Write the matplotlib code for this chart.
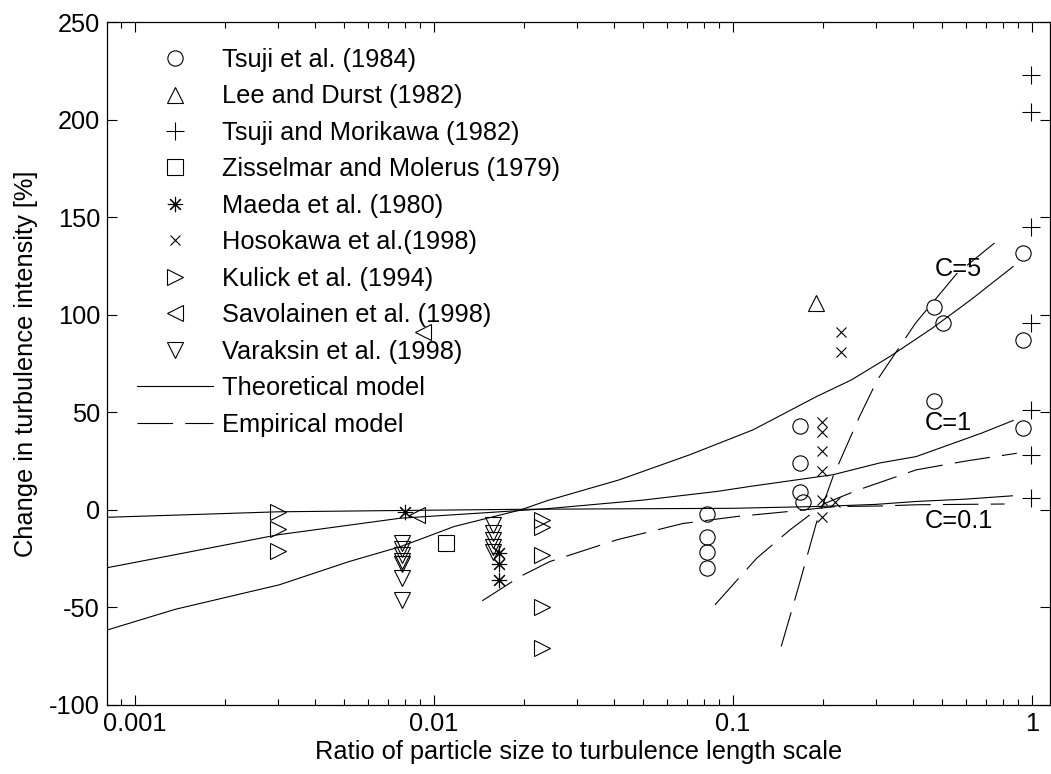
import matplotlib
matplotlib.use("Agg")
import matplotlib.pyplot as plt
from matplotlib.lines import Line2D

plt.rcParams["font.family"] = ["Liberation Sans", "DejaVu Sans"]
plt.rcParams["font.size"] = 18.3
plt.rcParams["axes.unicode_minus"] = False

# ---- measured data ----
tsuji84_x = [0.082, 0.082, 0.082, 0.082, 0.168, 0.168, 0.168, 0.172,
             0.472, 0.503, 0.472, 0.935, 0.935, 0.935]
tsuji84_y = [-2, -14, -21.5, -30, 43, 24, 9, 4, 104, 96, 56, 131.5, 87, 42]

lee_x = [0.19]
lee_y = [106]

morikawa_x = [0.99, 0.99, 0.99, 0.99, 0.99, 0.99, 0.99]
morikawa_y = [223, 204, 145, 96, 51, 28, 6]

zisselmar_x = [0.011]
zisselmar_y = [-17]

maeda_x = [0.008, 0.0165, 0.0165, 0.0165]
maeda_y = [-1, -22, -28, -36]

hosokawa_x = [0.198, 0.198, 0.198, 0.198, 0.198, 0.198, 0.22, 0.23, 0.23]
hosokawa_y = [45, 40, 30, 20, 5, -3.5, 4, 91, 81]

kulick_x = [0.003, 0.003, 0.003, 0.023, 0.023, 0.023, 0.023, 0.023]
kulick_y = [-1, -10, -21, -5, -9, -23, -50, -71]

savolainen_x = [0.0088, 0.0092]
savolainen_y = [-2.5, 91]

varaksin_x = [0.0078, 0.0078, 0.0078, 0.0078, 0.0078, 0.0078, 0.0078,
              0.0157, 0.0157, 0.0157, 0.0157, 0.0157]
varaksin_y = [-17, -20, -23, -26, -28, -35, -46, -8, -12, -15.5, -19, -21.5]

# ---- theoretical model curves ----
theo_c5_x = [0.00081, 0.00136, 0.00304, 0.0052, 0.00774, 0.0117, 0.0195, 0.024,
             0.0417, 0.0716, 0.1167, 0.19, 0.249, 0.335, 0.463, 0.624, 0.865]
theo_c5_y = [-61.5, -51, -38.4, -26.5, -18.8, -8.5, 0, 4.8,
             15.4, 28.2, 41, 58, 66.6, 78.6, 93, 107.6, 124.7]

theo_c1_x = [0.00081, 0.00136, 0.003, 0.0077, 0.0235, 0.05, 0.088, 0.114,
             0.216, 0.309, 0.41, 0.678, 0.865]
theo_c1_y = [-29.6, -23, -12.8, -4.3, 0.5, 5, 9.4, 12, 18, 24, 27.3, 39.3, 45.8]

theo_c01_x = [0.00081, 0.0015, 0.003, 0.008, 0.02, 0.1, 0.2, 0.3, 0.41, 0.6, 0.86]
theo_c01_y = [-3.8, -2.5, -1, -0.3, 0.3, 0.8, 1.8, 2.8, 4.3, 5.5, 7.2]

# ---- empirical model curves ----
emp_c01_x = [0.0145, 0.0195, 0.0244, 0.0408, 0.068, 0.103, 0.15, 0.22, 0.317, 0.41, 0.81]
emp_c01_y = [-46.6, -34, -26.5, -15.4, -7, -3.4, -1, 1.7, 2, 2.6, 3]

emp_c1_x = [0.087, 0.12, 0.155, 0.2035, 0.26, 0.41, 0.6, 0.89]
emp_c1_y = [-48.7, -24.8, -10.3, 3.4, 10, 20.5, 25, 29]

emp_c5_x = [0.145, 0.166, 0.19, 0.216, 0.265, 0.304, 0.408, 0.56, 0.796]
emp_c5_y = [-70, -39, -6.8, 17, 47.8, 66.6, 95.7, 121, 140]

fig = plt.figure(figsize=(10.51, 7.74), dpi=100)
ax = fig.add_axes([107 / 1051, 69 / 774, 943 / 1051, 683 / 774])

dash = (0, (32, 11))
lw = 0.8
for xs, ys in [(theo_c5_x, theo_c5_y), (theo_c1_x, theo_c1_y), (theo_c01_x, theo_c01_y)]:
    ax.plot(xs, ys, color="black", lw=lw)
for xs, ys in [(emp_c01_x, emp_c01_y), (emp_c1_x, emp_c1_y), (emp_c5_x, emp_c5_y)]:
    ax.plot(xs, ys, color="black", lw=lw, linestyle=dash)

mk = dict(linestyle="none", color="black", mfc="none", mew=0.8)
series = [
    (tsuji84_x, tsuji84_y, "o", 11, "Tsuji et al. (1984)"),
    (lee_x, lee_y, "^", 12, "Lee and Durst (1982)"),
    (morikawa_x, morikawa_y, "+", 13, "Tsuji and Morikawa (1982)"),
    (zisselmar_x, zisselmar_y, "s", 11, "Zisselmar and Molerus (1979)"),
    (maeda_x, maeda_y, (8, 2, 0), 11, "Maeda et al. (1980)"),
    (hosokawa_x, hosokawa_y, "x", 6.5, "Hosokawa et al.(1998)"),
    (kulick_x, kulick_y, ">", 12, "Kulick et al. (1994)"),
    (savolainen_x, savolainen_y, "<", 12, "Savolainen et al. (1998)"),
    (varaksin_x, varaksin_y, "v", 12, "Varaksin et al. (1998)"),
]
handles = []
for xs, ys, m, ms, lab in series:
    ax.plot(xs, ys, marker=m, ms=ms, **mk)
    handles.append(Line2D([], [], marker=m, ms=ms, label=lab, **mk))
handles.append(Line2D([], [], color="black", lw=lw, label="Theoretical model"))
handles.append(Line2D([], [], color="black", lw=lw, linestyle=dash, label="Empirical model"))

ax.text(0.474, 123.5, "C=5", va="center", ha="left")
ax.text(0.437, 44.6, "C=1", va="center", ha="left")
ax.text(0.437, -5.6, "C=0.1", va="center", ha="left")

ax.set_xscale("log")
ax.set_xlim(0.000806, 1.149)
ax.set_ylim(-100, 250)
ax.set_yticks([-100, -50, 0, 50, 100, 150, 200, 250])
ax.set_xticks([0.001, 0.01, 0.1, 1])
ax.set_xticklabels(["0.001", "0.01", "0.1", "1"])
ax.tick_params(which="both", direction="in", top=True, right=True, width=0.8)
ax.tick_params(which="major", length=7, pad=5)
ax.tick_params(which="minor", length=4)
for s in ax.spines.values():
    s.set_linewidth(0.9)

ax.set_xlabel("Ratio of particle size to turbulence length scale", labelpad=3)
ax.set_ylabel("Change in turbulence intensity [%]", labelpad=8)

ax.legend(handles=handles, loc="upper left", frameon=False,
          bbox_to_anchor=(137 / 1051, 1 - 48 / 774), bbox_transform=fig.transFigure,
          borderaxespad=0, borderpad=0, handlelength=3.0, handletextpad=0.35,
          labelspacing=0.49)

fig.savefig("out.png", dpi=100)
